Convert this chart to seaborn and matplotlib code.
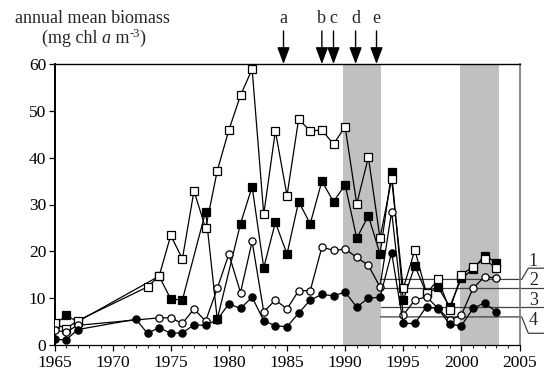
import numpy as np
import pandas as pd
import matplotlib
matplotlib.use("Agg")
import matplotlib.pyplot as plt
import seaborn as sns
from matplotlib.transforms import offset_copy

# ---------------- data ----------------
years_os = [1965, 1966, 1967, 1973, 1974, 1975, 1976, 1977, 1978, 1979, 1980, 1981, 1982,
            1983, 1984, 1985, 1986, 1987, 1988, 1989, 1990, 1991, 1992, 1993, 1994, 1995,
            1996, 1997, 1998, 1999, 2000, 2001, 2002, 2003]
open_sq = [4.6, 3.5, 5.2, 12.4, 14.7, 23.4, 18.4, 32.9, 24.9, 37.2, 45.9, 53.3, 58.9,
           27.9, 45.7, 31.9, 48.2, 45.7, 45.9, 42.9, 46.6, 30.1, 40.1, 22.8, 35.4, 12.1,
           20.3, 11.0, 14.0, 7.5, 15.0, 16.7, 18.3, 16.4]

years_fs = [1965, 1966, 1967, 1974, 1975, 1976, 1978, 1979, 1981, 1982, 1983, 1984, 1985,
            1986, 1987, 1988, 1989, 1990, 1991, 1992, 1993, 1994, 1995, 1996, 1997, 1998,
            1999, 2000, 2001, 2002, 2003]
filled_sq = [4.4, 6.3, 5.0, 14.7, 9.8, 9.6, 28.5, 5.5, 25.9, 33.8, 16.5, 26.2, 19.4,
             30.6, 25.9, 35.0, 30.6, 34.2, 22.8, 27.6, 19.4, 36.9, 9.6, 16.9, 11.0, 12.3,
             8.2, 14.2, 16.2, 19.1, 17.6]

years_oc = [1965, 1966, 1967, 1974, 1975, 1976, 1977, 1978, 1979, 1980, 1981, 1982, 1983,
            1984, 1985, 1986, 1987, 1988, 1989, 1990, 1991, 1992, 1993, 1994, 1995, 1996,
            1997, 1998, 1999, 2000, 2001, 2002, 2003]
open_ci = [3.1, 2.8, 4.2, 5.8, 5.8, 4.6, 7.7, 5.1, 12.1, 19.4, 11.2, 22.1, 7.1,
           9.6, 7.7, 11.6, 11.6, 20.9, 20.2, 20.5, 18.7, 17.0, 12.4, 28.5, 6.4, 9.6,
           10.3, 7.8, 5.3, 6.4, 12.1, 14.6, 14.3]

years_fc = [1965, 1966, 1967, 1972, 1973, 1974, 1975, 1976, 1977, 1978, 1979, 1980, 1981,
            1982, 1983, 1984, 1985, 1986, 1987, 1988, 1989, 1990, 1991, 1992, 1993, 1994,
            1995, 1996, 1997, 1998, 1999, 2000, 2001, 2002, 2003]
filled_ci = [1.2, 1.1, 3.3, 5.5, 2.5, 3.7, 2.5, 2.6, 4.3, 4.2, 5.4, 8.8, 7.8,
             10.2, 5.2, 4.1, 3.9, 6.8, 9.6, 10.8, 10.5, 11.3, 8.1, 10.0, 10.2, 19.7,
             4.6, 4.6, 8.2, 7.7, 4.4, 4.1, 7.8, 9.0, 7.1]

shaded_periods = [(1989.85, 1993.05), (1999.85, 2003.2)]
event_labels = ["a", "b", "c", "d", "e"]
event_years = [1984.7, 1988.0, 1989.0, 1990.9, 1992.7]
ref_labels = ["1", "2", "3", "4"]
ref_levels = [14.0, 12.1, 8.1, 6.0]

# ---------------- style ----------------
sns.set_style("ticks")
plt.rcParams["font.family"] = ["Liberation Serif", "DejaVu Serif"]

fig = plt.figure(figsize=(5.44, 3.72), dpi=100)
W, H = 544, 372
x0, x1, ytop, ybot = 54.5, 519.5, 64, 345
ax = fig.add_axes([x0 / W, (H - ybot) / H, (x1 - x0) / W, (ybot - ytop) / H])

for a, b in shaded_periods:
    ax.axvspan(a, b, color="#c0c0c0", lw=0, zorder=0)

df_fs = pd.DataFrame({"year": years_fs, "v": filled_sq})
df_os = pd.DataFrame({"year": years_os, "v": open_sq})
df_oc = pd.DataFrame({"year": years_oc, "v": open_ci})
df_fc = pd.DataFrame({"year": years_fc, "v": filled_ci})

common = dict(x="year", y="v", estimator=None, ax=ax, color="black", lw=0.9,
              markersize=5.2, markeredgewidth=0.9, markeredgecolor="black")
sns.lineplot(data=df_fs, marker="s", markerfacecolor="black", zorder=3, **common)
sns.lineplot(data=df_os, marker="s", markerfacecolor="white", zorder=4, **common)
sns.lineplot(data=df_oc, marker="o", markerfacecolor="white", zorder=5, **common)
sns.lineplot(data=df_fc, marker="o", markerfacecolor="black", zorder=6, **common)

ax.set_xlim(1965, 2005)
ax.set_ylim(0, 60)
ax.set_xticks(range(1965, 2006, 5))
ax.set_xticks(range(1965, 2006, 1), minor=True)
ax.set_yticks(range(0, 61, 10))
ax.set_xlabel("")
ax.set_ylabel("")
ax.tick_params(axis="both", labelsize=12.5, direction="out", colors="black")
ax.tick_params(axis="y", length=4, width=0.9, pad=2)
ax.tick_params(axis="x", which="major", length=4, width=0.9, pad=3)
ax.tick_params(axis="x", which="minor", length=2.5, width=0.8)

for s in ["top", "left", "bottom", "right"]:
    ax.spines[s].set_visible(True)
ax.spines["left"].set_linewidth(1.4)
ax.spines["top"].set_linewidth(1.0)
ax.spines["bottom"].set_linewidth(0.9)
ax.spines["right"].set_linewidth(1.3)
ax.spines["right"].set_color("#808080")
for s in ["top", "left", "bottom"]:
    ax.spines[s].set_color("black")

# reference lines 1-4
ppy = (x1 - x0) / 40.0
x_edge = 2005 + (544 - x1) / ppy
x_knee1 = 2005 + (521.7 - x1) / ppy
x_knee2 = 2005 + (528.3 - x1) / ppy
lc = "#404040"
for lvl in ref_levels[1:3]:
    ax.plot([1993.05, x_edge], [lvl, lvl], color=lc, lw=0.9, clip_on=False, zorder=2)
up1 = 16.4
dn4 = 2.5
ax.plot([1993.05, x_knee1, x_knee2, x_edge], [ref_levels[0], ref_levels[0], up1, up1],
        color=lc, lw=0.9, clip_on=False, zorder=2)
ax.plot([1993.05, x_knee1, x_knee2, x_edge], [ref_levels[3], ref_levels[3], dn4, dn4],
        color=lc, lw=0.9, clip_on=False, zorder=2)
label_base = [16.9, 12.8, 8.5, 4.3]
x_lab = 2005 + (533.3 - x1) / ppy
for lab, yb in zip(ref_labels, label_base):
    ax.text(x_lab, yb, lab, ha="center", va="baseline", fontsize=13, clip_on=False)

# event arrows
tail = 1 + (64 - 31) / (ybot - ytop)
lab_y = 1 + (64 - 22.7) / (ybot - ytop)
for lab, yr in zip(event_labels, event_years):
    ax.annotate("", xy=(yr, 1.0), xycoords=("data", "axes fraction"),
                xytext=(yr, tail), textcoords=("data", "axes fraction"),
                arrowprops=dict(arrowstyle="-|>,head_length=0.85,head_width=0.32",
                                mutation_scale=12, color="black", lw=1.0,
                                shrinkA=0, shrinkB=0), annotation_clip=False)
    ax.text(yr, lab_y, lab, ha="center", va="baseline", fontsize=13,
            transform=ax.get_xaxis_transform(), clip_on=False)

fig.text(15 / W, 1 - 22.7 / H, "annual mean biomass", ha="left", va="baseline", fontsize=13)

# second line of the axis title, built from pieces (hyphen in superscript)
renderer = fig.canvas.get_renderer()
pieces = [("(mg chl ", "normal", 13, 0), ("a", "italic", 13, 0), (" m", "normal", 13, 0),
          ("-3", "normal", 9, 5.5), (")", "normal", 13, 0)]
cur_x = 41.7
base_y = 372 - 42.7
for txt, style, size, rise in pieces:
    t = fig.text(cur_x / W, (base_y + rise) / H, txt, ha="left", va="baseline",
                 fontsize=size, fontstyle=style)
    bb = t.get_window_extent(renderer=renderer)
    cur_x = bb.x1

fig.savefig("out.png", dpi=100)
